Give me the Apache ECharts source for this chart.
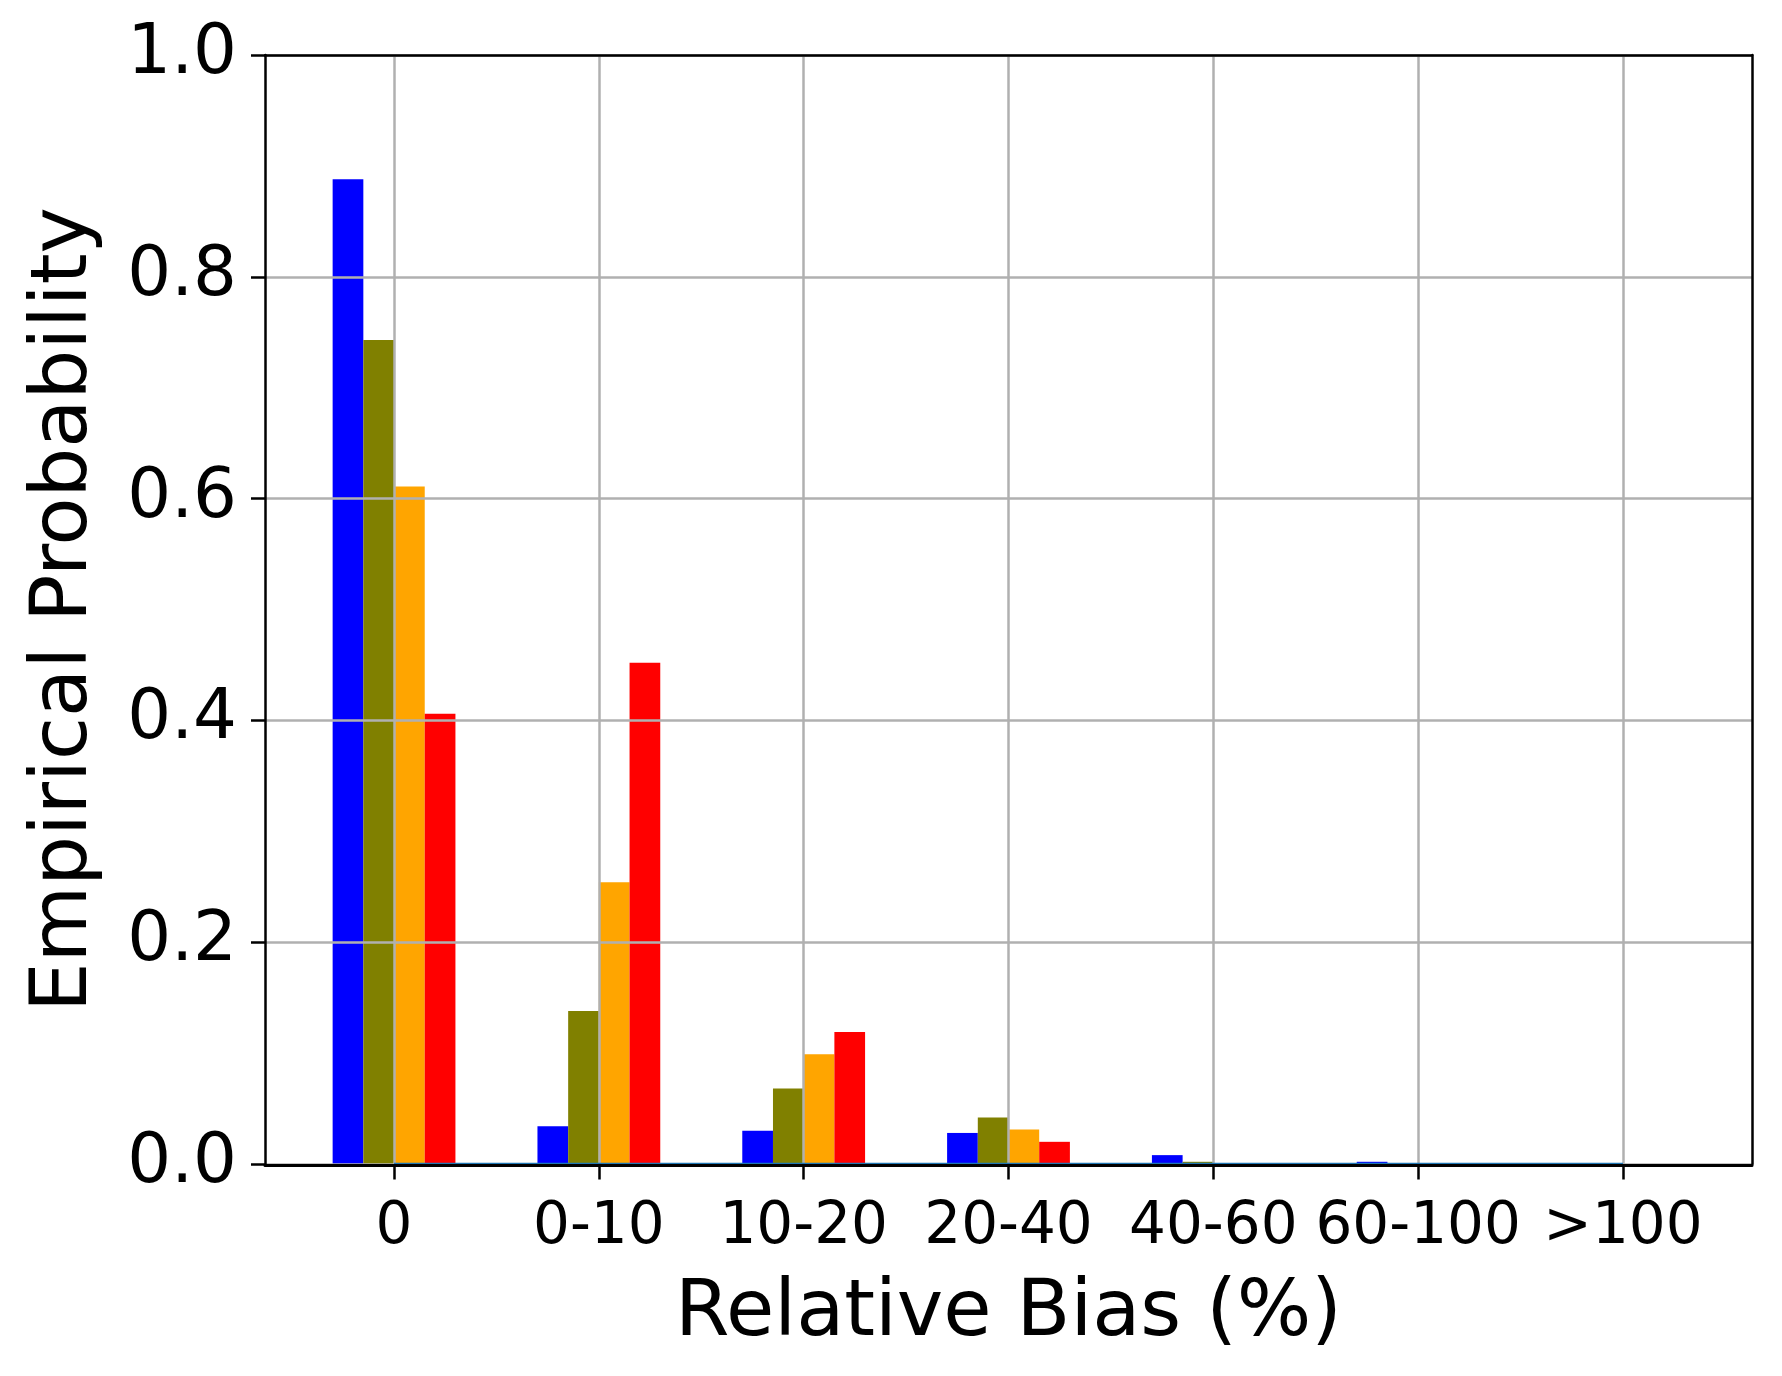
<!DOCTYPE html>
<html>
<head>
<meta charset="utf-8">
<script src="https://cdn.jsdelivr.net/npm/echarts@6/dist/echarts.min.js"></script>
<style>html,body{margin:0;padding:0;background:#fff}#chart{width:1782px;height:1376px}</style>
</head>
<body>
<div id="chart"></div>
<script>
const categories = ['0', '0-10', '10-20', '20-40', '40-60', '60-100', '>100'];
const seriesBlue   = [0.888, 0.034, 0.030, 0.028, 0.008, 0.002, 0.0];
const seriesOlive  = [0.743, 0.138, 0.068, 0.042, 0.002, 0.0, 0.0];
const seriesOrange = [0.611, 0.254, 0.099, 0.031, 0.0, 0.0, 0.0];
const seriesRed    = [0.406, 0.452, 0.119, 0.020, 0.0, 0.0, 0.0];
const baseLine     = [0, 0, 0, 0, 0, 0, 0];
const yTicks = [0, 0.2, 0.4, 0.6, 0.8, 1.0];

const FONT = 'DejaVu Sans';
const positions = categories.map((c, i) => i);
const toPairs = arr => arr.map((v, i) => [i, v]);

const chart = echarts.init(document.getElementById('chart'), null, {renderer: 'canvas'});
const barCommon = {type: 'bar', barWidth: 30.7, barGap: '0%', xAxisIndex: 0, yAxisIndex: 0, z: 2};
const spine = {color: '#000', width: 2.5};

chart.setOption({
  animation: false,
  backgroundColor: '#ffffff',
  grid: {left: 265, top: 55, width: 1487, height: 1109, show: false},
  xAxis: [{
    type: 'value', min: -0.63, max: 6.63, z: 3,
    axisLine: {show: false},
    axisTick: {show: false, customValues: positions},
    axisLabel: {show: false, customValues: positions},
    splitLine: {show: true, lineStyle: {color: '#b0b0b0', width: 2.5}}
  }, {
    type: 'value', min: -0.63, max: 6.63, z: 5, position: 'bottom', offset: 1.5,
    name: 'Relative Bias (%)', nameLocation: 'middle', nameGap: 110,
    nameTextStyle: {fontFamily: FONT, fontSize: 78.5, color: '#000'},
    axisLine: {show: true, onZero: false, lineStyle: {color: '#000', width: 3}},
    axisTick: {show: true, length: 14, customValues: positions, lineStyle: {color: '#000', width: 2.5}},
    axisLabel: {show: true, customValues: positions, margin: 33, fontFamily: FONT, fontSize: 58, color: '#000',
      formatter: v => categories[Math.round(v)]},
    splitLine: {show: false}
  }, {
    type: 'value', min: -0.63, max: 6.63, z: 5, position: 'top',
    axisLine: {show: true, onZero: false, lineStyle: spine},
    axisTick: {show: false}, axisLabel: {show: false}, splitLine: {show: false}
  }],
  yAxis: [{
    type: 'value', min: 0, max: 1, interval: 0.2, z: 3,
    name: 'Empirical Probability', nameLocation: 'middle', nameGap: 160,
    nameTextStyle: {fontFamily: FONT, fontSize: 78.5, color: '#000'},
    axisLine: {show: true, onZero: false, lineStyle: spine},
    axisTick: {show: true, length: 14, lineStyle: spine},
    axisLabel: {margin: 28, fontFamily: FONT, fontSize: 69, color: '#000', formatter: v => v.toFixed(1)},
    splitLine: {show: true, lineStyle: {color: '#b0b0b0', width: 2.5}}
  }, {
    type: 'value', min: 0, max: 1, z: 5, position: 'right',
    axisLine: {show: true, onZero: false, lineStyle: spine},
    axisTick: {show: false}, axisLabel: {show: false}, splitLine: {show: false}
  }],
  series: [
    Object.assign({}, barCommon, {name: 'blue', data: toPairs(seriesBlue), itemStyle: {color: '#0000ff'}}),
    Object.assign({}, barCommon, {name: 'olive', data: toPairs(seriesOlive), itemStyle: {color: '#808000'}}),
    Object.assign({}, barCommon, {name: 'orange', data: toPairs(seriesOrange), itemStyle: {color: '#ffa500'}}),
    Object.assign({}, barCommon, {name: 'red', data: toPairs(seriesRed), itemStyle: {color: '#ff0000'}}),
    {type: 'line', name: 'zero', data: toPairs(baseLine), xAxisIndex: 0, yAxisIndex: 0, z: 4,
      showSymbol: false, symbol: 'none', lineStyle: {color: '#1f77b4', width: 2.5}}
  ]
});
</script>
</body>
</html>
